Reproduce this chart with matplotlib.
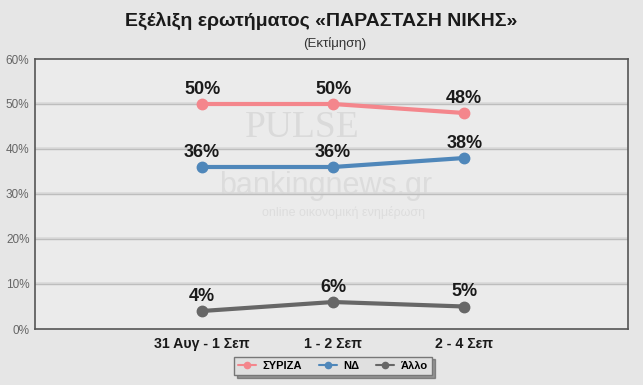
import matplotlib.pyplot as plt

# --- data ---
periods = ['31 Αυγ - 1 Σεπ', '1 - 2 Σεπ', '2 - 4 Σεπ']
syriza = [50, 50, 48]
nd = [36, 36, 38]
other = [4, 6, 5]
series_names = ['ΣΥΡΙΖΑ', 'ΝΔ', 'Άλλο']
yticks = [0, 10, 20, 30, 40, 50, 60]

# --- style ---
BG = '#e6e6e6'
PLOT_BG = '#ebebeb'
COLORS = ['#f4868c', '#4f87ba', '#676767']
FONT = 'Liberation Sans'

plt.rcParams['font.family'] = [FONT, 'DejaVu Sans']

fig = plt.figure(figsize=(6.43, 3.85), dpi=100)
fig.patch.set_facecolor(BG)
ax = fig.add_axes([35 / 643, 1 - 329 / 385, 593 / 643, 270 / 385])
ax.set_facecolor(PLOT_BG)

# faint watermark, like the original
ax.text(0.45, 0.745, 'PULSE', transform=ax.transAxes, ha='center', va='center',
        fontsize=27, family='Liberation Serif', color='#dadada', zorder=0)
ax.text(0.49, 0.53, 'bankingnews.gr', transform=ax.transAxes, ha='center', va='center',
        fontsize=22, color='#dcdcdc', zorder=0)
ax.text(0.52, 0.43, 'online οικονομική ενημέρωση', transform=ax.transAxes, ha='center',
        va='center', fontsize=9, color='#dddddd', zorder=0)

x = list(range(len(periods)))
for vals, name, col in zip([syriza, nd, other], series_names, COLORS):
    ax.plot(x, vals, color=col, lw=3, marker='o', ms=7.5, label=name, zorder=3,
            solid_capstyle='round')
    for xi, v in zip(x, vals):
        ax.annotate(f'{v}%', (xi, v), xytext=(0, 4.5), textcoords='offset points',
                    ha='center', va='bottom', fontsize=13, fontweight='bold',
                    color='#1a1a1a', zorder=4)

ax.set_xlim(-1.275, 3.25)
ax.set_ylim(0, 60)
ax.set_yticks(yticks)
ax.set_yticklabels([f'{t}%' for t in yticks], color='#666666', fontsize=8.5)
ax.set_xticks(x)
ax.set_xticklabels(periods, fontsize=10.2, fontweight='bold', color='#1a1a1a')
ax.tick_params(length=0, pad=4)
ax.tick_params(axis='x', pad=6)
for t in yticks[1:-1]:
    ax.axhline(t + 0.25, color='#d9d9d9', lw=1.2, zorder=1)
    ax.axhline(t, color='#bdbdbd', lw=1, zorder=1)
for sp in ax.spines.values():
    sp.set_color('#555555')
    sp.set_linewidth(1.2)

fig.text(0.5, 1 - 21 / 385, 'Εξέλιξη ερωτήματος «ΠΑΡΑΣΤΑΣΗ ΝΙΚΗΣ»', ha='center',
         va='center', fontsize=14, fontweight='bold', color='#1a1a1a')
fig.text(0.52, 1 - 44 / 385, '(Εκτίμηση)', ha='center', va='center', fontsize=9.5,
         color='#333333')

leg = fig.legend(loc='center', bbox_to_anchor=(333 / 643, 1 - 366 / 385), ncol=3,
                 fontsize=8, frameon=True, fancybox=False, shadow=True,
                 handlelength=1.6, columnspacing=1.5, handletextpad=0.6,
                 borderpad=0.4, markerscale=0.6)
leg.get_frame().set_facecolor('#e0e0e0')
leg.get_frame().set_edgecolor('#777777')
for t in leg.get_texts():
    t.set_fontweight('bold')
for h in leg.legend_handles:
    h.set_linewidth(1.5)

fig.savefig('out.png', dpi=100, facecolor=fig.get_facecolor())
